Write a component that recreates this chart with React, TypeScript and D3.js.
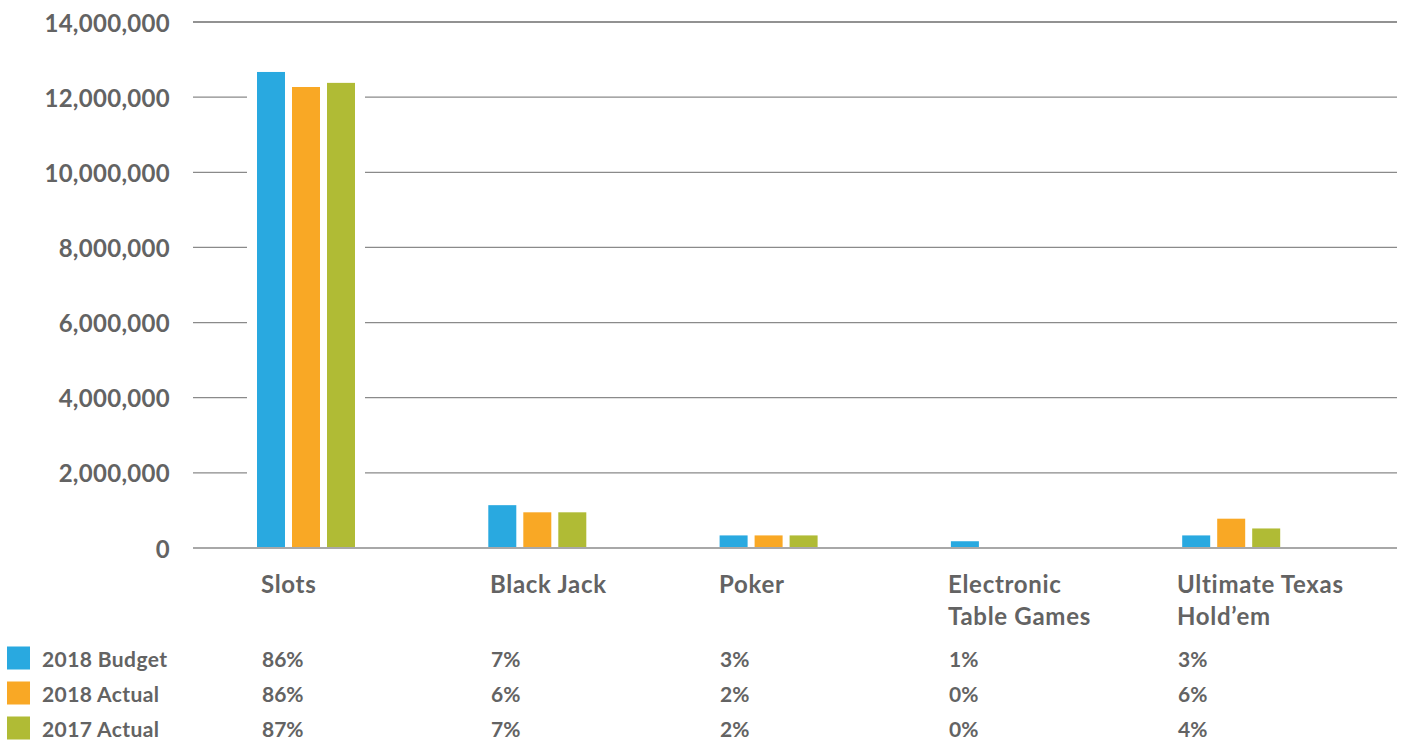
import React from "react";
import * as d3 from "d3";

const categories = ["Slots", "Black Jack", "Poker", "Electronic Table Games", "Ultimate Texas Hold’em"];
const categoryLines = [["Slots"], ["Black Jack"], ["Poker"], ["Electronic", "Table Games"], ["Ultimate Texas", "Hold’em"]];
const seriesNames = ["2018 Budget", "2018 Actual", "2017 Actual"];
const budget2018 = [12670000, 1140000, 335000, 180000, 335000];
const actual2018 = [12270000, 950000, 335000, 0, 780000];
const actual2017 = [12380000, 950000, 335000, 0, 520000];
const pctBudget2018 = ["86%", "7%", "3%", "1%", "3%"];
const pctActual2018 = ["86%", "6%", "2%", "0%", "6%"];
const pctActual2017 = ["87%", "7%", "2%", "0%", "4%"];
const yTicks = [0, 2000000, 4000000, 6000000, 8000000, 10000000, 12000000, 14000000];

const seriesValues = [budget2018, actual2018, actual2017];
const seriesPcts = [pctBudget2018, pctActual2018, pctActual2017];
const colors = ["#29a9e0", "#f9a825", "#b0bb35"];

const W = 1404;
const H = 742;
const FONT = "Lato, 'Open Sans', sans-serif";
const TEXT = "#636363";

export default function App() {
  const y = d3.scaleLinear().domain([0, 14000000]).range([548, 22]);
  const x = d3.scaleBand<string>().domain(categories).range([257, 257 + 231.3 * 5]).paddingInner(0).paddingOuter(0).align(0);
  const xl = d3.scaleBand<string>().domain(categories).range([262, 262 + 229 * 5]).paddingInner(0).paddingOuter(0).align(0);
  const xs = d3.scaleBand<string>().domain(seriesNames).range([0, 98]).paddingInner(0.2).paddingOuter(0);
  const fmt = d3.format(",");

  return (
    <svg width={W} height={H} style={{ position: "absolute", left: 0, top: 0, background: "#fff" }}>
      {yTicks.map((t) => (
        <g key={t}>
          {t !== 0 && (
            <line x1={193} x2={1397} y1={y(t)} y2={y(t)} stroke={t === 14000000 ? "#6e6e6e" : "#8a8a8a"} strokeWidth={1.3} />
          )}
          <text x={170} y={y(t)} textAnchor="end" dominantBaseline="central" fontFamily={FONT} fontWeight={700} fontSize={24} letterSpacing={0.3} fill={TEXT}>
            {fmt(t)}
          </text>
        </g>
      ))}
      {categories.map((c, ci) => {
        const x0 = x(c)!;
        const maxV = d3.max(seriesValues, (s) => s[ci])!;
        return (
          <g key={c}>
            {maxV > 0 && <rect x={x0 - 10} width={98 + 20} y={y(maxV)} height={y(0) - y(maxV) - 1} fill="#fff" />}
            {seriesNames.map((s, si) => {
              const v = seriesValues[si][ci];
              if (v <= 0) return null;
              return <rect key={s} x={x0 + xs(s)!} width={xs.bandwidth()} y={y(v)} height={y(0) - y(v)} fill={colors[si]} />;
            })}
          </g>
        );
      })}
      <line x1={193} x2={1397} y1={y(0)} y2={y(0)} stroke="#a8a8a8" strokeWidth={2} />
      {categories.map((c, ci) => (
        <text key={c} x={xl(c)! - 1} y={593} fontFamily={FONT} fontWeight={700} fontSize={24} letterSpacing={0.7} fill={TEXT}>
          {categoryLines[ci].map((l, li) => (
            <tspan key={li} x={xl(c)! - 1} y={593 + li * 32}>{l}</tspan>
          ))}
        </text>
      ))}
      {seriesNames.map((s, si) => {
        const cy = 658 + si * 35;
        return (
          <g key={s}>
            <rect x={7} y={cy - 11.5} width={23} height={23} fill={colors[si]} />
            <text x={42} y={cy} dominantBaseline="central" fontFamily={FONT} fontWeight={700} fontSize={21} letterSpacing={0.4} fill={TEXT}>{s}</text>
            {categories.map((c, ci) => (
              <text key={c} x={xl(c)!} y={cy} dominantBaseline="central" fontFamily={FONT} fontWeight={700} fontSize={21} fill={TEXT}>
                {seriesPcts[si][ci]}
              </text>
            ))}
          </g>
        );
      })}
    </svg>
  );
}
